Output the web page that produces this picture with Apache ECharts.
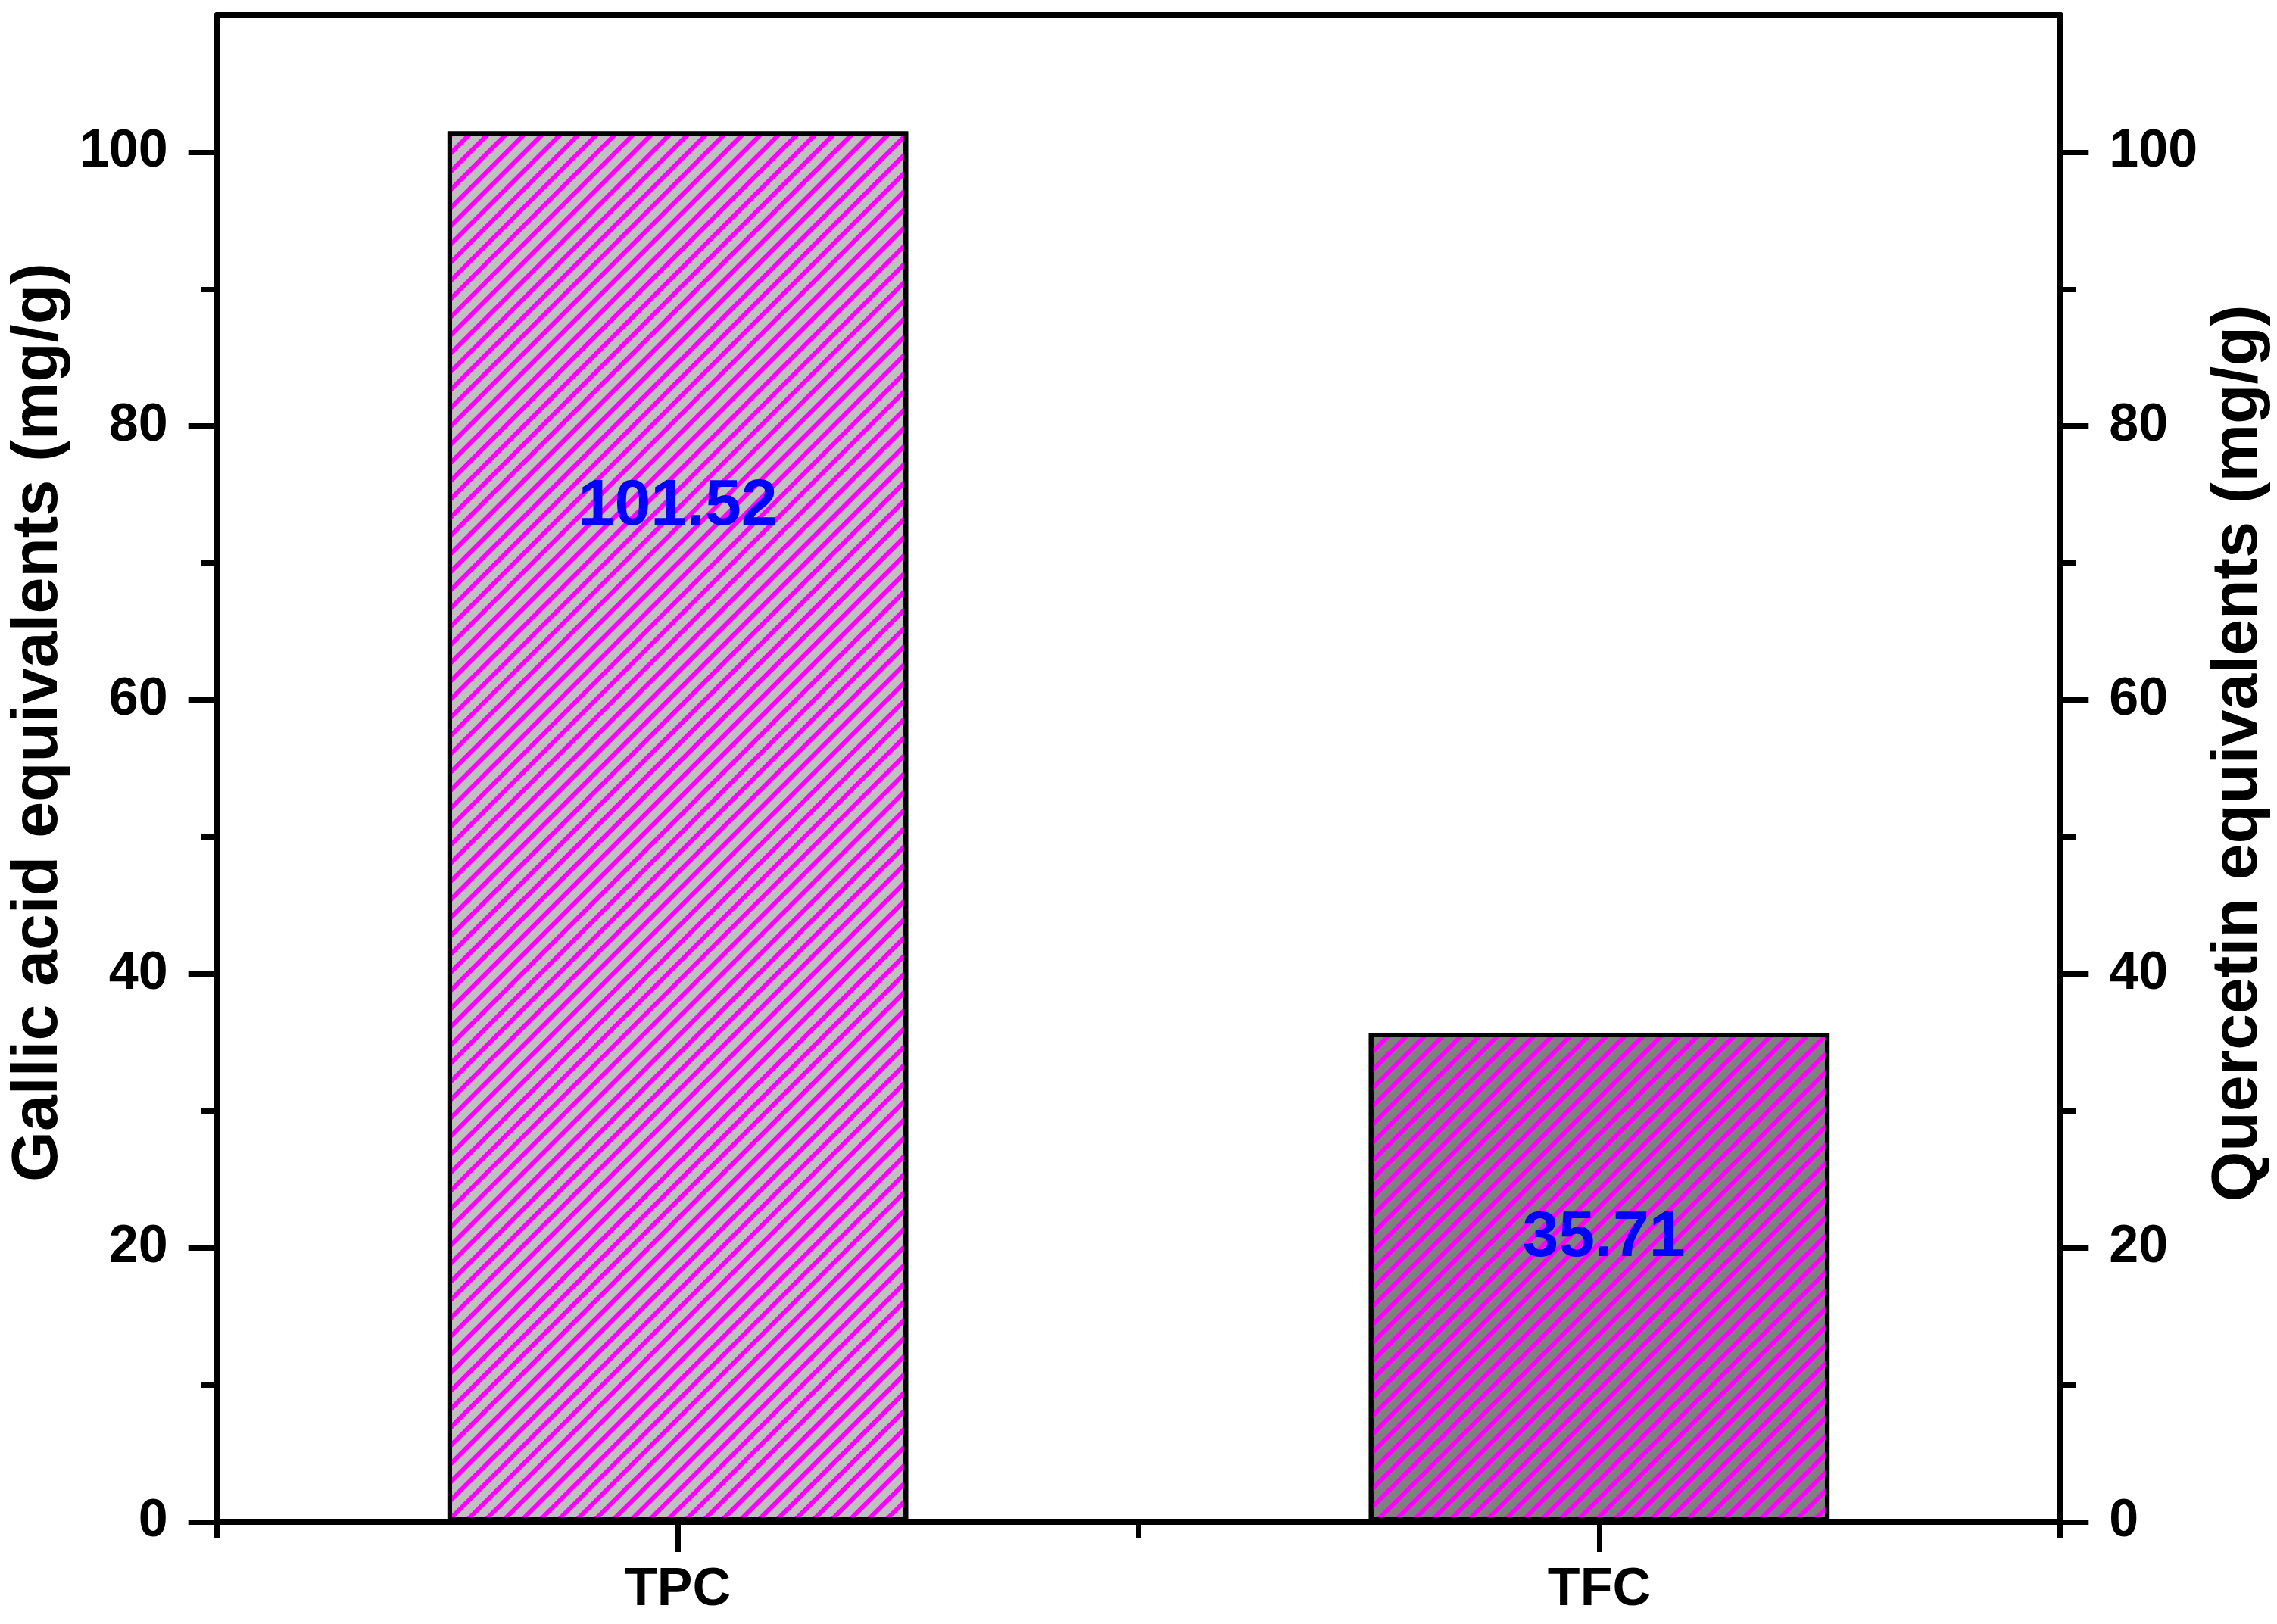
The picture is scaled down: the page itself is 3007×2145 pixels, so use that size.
<!DOCTYPE html>
<html>
<head>
<meta charset="utf-8">
<script src="https://cdn.jsdelivr.net/npm/echarts@6/dist/echarts.min.js"></script>
<style>
html, body { margin: 0; padding: 0; background: #fff; }
#container { width: 3007px; height: 2145px; }
</style>
</head>
<body>
<div id="container"></div>
<script>
// data
var categories = ['TPC', 'TFC'];
var values = [101.52, 35.71];
var majorTicks = [0, 20, 40, 60, 80, 100];
var minorTicks = [10, 30, 50, 70, 90];

var barColors = ['#c0c0c0', '#808080'];
var labelPos = [['50%', '27%'], ['51%', '42%']];
var font = 'Liberation Sans';

function majorY(pos, name, gap, shift) {
    return {
        type: 'value',
        position: pos,
        min: 0,
        max: 110,
        name: name,
        nameLocation: 'middle',
        nameRotate: 90,
        nameGap: gap,
        nameTextStyle: {
            fontFamily: font, fontWeight: 'bold', fontSize: 86, color: '#000',
            padding: [0, 0, 0, shift]
        },
        axisLine: { show: true, onZero: false, lineStyle: { color: '#000', width: 8 } },
        axisTick: { show: true, inside: false, length: 38, customValues: majorTicks, lineStyle: { color: '#000', width: 7 } },
        axisLabel: { show: true, margin: 65, customValues: majorTicks, fontFamily: font, fontWeight: 'bold', fontSize: 70, color: '#000' },
        splitLine: { show: false }
    };
}

function minorY(pos) {
    return {
        type: 'value',
        position: pos,
        min: 0,
        max: 110,
        axisLine: { show: false },
        axisTick: { show: true, length: 21, customValues: minorTicks, lineStyle: { color: '#000', width: 7 } },
        axisLabel: { show: false },
        splitLine: { show: false }
    };
}

var myChart = echarts.init(document.getElementById('container'));
var option = {
    animation: false,
    backgroundColor: '#fff',
    grid: { left: 277, right: 282, top: 20, bottom: 135, containLabel: false },
    xAxis: [
        {
            type: 'category',
            position: 'bottom',
            data: categories,
            axisLine: { show: true, onZero: false, lineStyle: { color: '#000', width: 8 } },
            axisTick: { show: true, alignWithLabel: true, length: 40, lineStyle: { color: '#000', width: 7 } },
            axisLabel: { margin: 56, fontFamily: font, fontWeight: 'bold', fontSize: 70, color: '#000' }
        },
        {
            // short ticks between the categories
            type: 'category',
            position: 'bottom',
            data: categories,
            axisLine: { show: false, onZero: false },
            axisTick: { show: true, length: 22, lineStyle: { color: '#000', width: 7 } },
            axisLabel: { show: false }
        },
        {
            // top frame line
            type: 'category',
            position: 'top',
            data: categories,
            axisLine: { show: true, onZero: false, lineStyle: { color: '#000', width: 8 } },
            axisTick: { show: false },
            axisLabel: { show: false }
        }
    ],
    yAxis: [
        majorY('left', 'Gallic acid equivalents (mg/g)', 162, 122),
        minorY('left'),
        majorY('right', 'Quercetin equivalents (mg/g)', 172, 40),
        minorY('right')
    ],
    series: [
        {
            type: 'bar',
            xAxisIndex: 0,
            yAxisIndex: 0,
            barWidth: '50%',
            data: values.map(function (v, i) {
                return {
                    value: v,
                    itemStyle: {
                        color: barColors[i],
                        borderColor: '#000',
                        borderWidth: 6,
                        decal: {
                            symbol: 'rect',
                            symbolSize: 1,
                            color: '#ff00ff',
                            dashArrayX: [1, 0],
                            dashArrayY: [6, 11],
                            rotation: -Math.PI / 4
                        }
                    },
                    label: { position: labelPos[i] }
                };
            }),
            label: {
                show: true,
                align: 'center',
                verticalAlign: 'middle',
                fontFamily: font,
                fontWeight: 'bold',
                fontSize: 86,
                color: '#0000ff',
                formatter: function (p) { return p.value.toFixed(2); }
            }
        }
    ]
};
myChart.setOption(option);
</script>
</body>
</html>
